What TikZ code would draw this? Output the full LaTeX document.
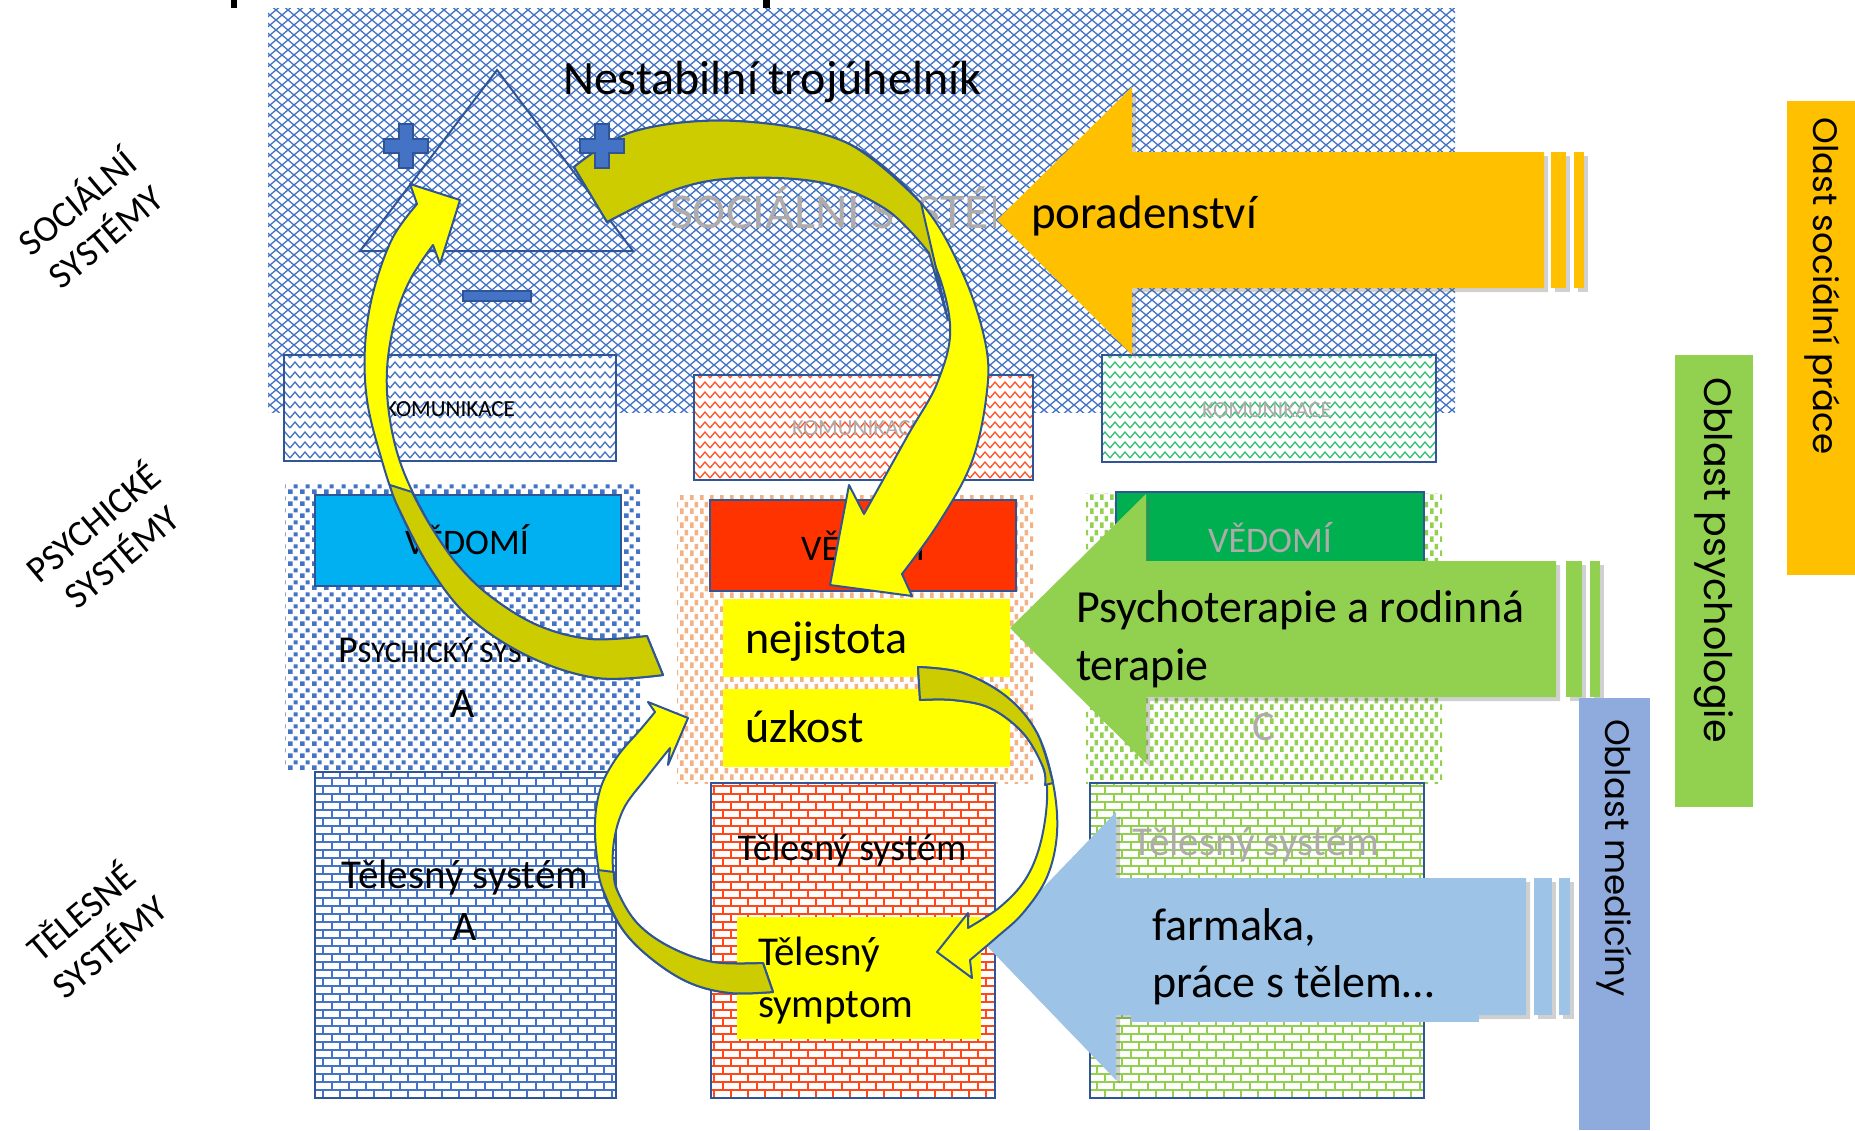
\documentclass[tikz,border=0pt]{standalone}
\usepackage{fontspec}
\setmainfont{Carlito}
\newfontfamily\barfont{Poppins}
\usetikzlibrary{patterns.meta,shadows}
\definecolor{pblue}{HTML}{4472C4}
\definecolor{dblue}{HTML}{2F5597}
\definecolor{cyanv}{HTML}{00B0F0}
\definecolor{redv}{HTML}{FF3300}
\definecolor{greenv}{HTML}{00B050}
\definecolor{yel}{HTML}{FFFF00}
\definecolor{dyel}{HTML}{CCCC00}
\definecolor{orng}{HTML}{FFC000}
\definecolor{lgreen}{HTML}{92D050}
\definecolor{lblue}{HTML}{9DC3E6}
\definecolor{barblue}{HTML}{8FAADC}
\definecolor{peach}{HTML}{F4B183}
\definecolor{gtext}{HTML}{AFABAB}
\pgfdeclarepattern{name=lattice,type=uncolored,
  bottom left={\pgfpoint{-1pt}{-1pt}},top right={\pgfpoint{13pt}{11pt}},
  tile size={\pgfpoint{12pt}{10pt}},
  code={\pgfsetlinewidth{1.3pt}
    \pgfpathmoveto{\pgfpointorigin}\pgfpathlineto{\pgfpoint{12pt}{10pt}}
    \pgfpathmoveto{\pgfpoint{0pt}{10pt}}\pgfpathlineto{\pgfpoint{12pt}{0pt}}
    \pgfusepath{stroke}}}
\pgfdeclarepattern{name=zigzag,type=uncolored,
  bottom left={\pgfpoint{-1pt}{-1pt}},top right={\pgfpoint{11pt}{11pt}},
  tile size={\pgfpoint{10pt}{10pt}},
  code={\pgfsetlinewidth{1.3pt}
    \pgfpathmoveto{\pgfpoint{0pt}{2pt}}\pgfpathlineto{\pgfpoint{5pt}{8pt}}
    \pgfpathlineto{\pgfpoint{10pt}{2pt}}
    \pgfusepath{stroke}}}
\pgfdeclarepattern{name=squares,type=uncolored,
  bottom left={\pgfpoint{0pt}{0pt}},top right={\pgfpoint{12pt}{12pt}},
  tile size={\pgfpoint{12pt}{12pt}},
  code={\pgfpathrectangle{\pgfpoint{0pt}{0pt}}{\pgfpoint{5pt}{5pt}}
    \pgfpathrectangle{\pgfpoint{6pt}{6pt}}{\pgfpoint{4.5pt}{4.5pt}}
    \pgfusepath{fill}}}
\pgfdeclarepattern{name=dashes,type=uncolored,
  bottom left={\pgfpoint{0pt}{0pt}},top right={\pgfpoint{10pt}{14pt}},
  tile size={\pgfpoint{10pt}{14pt}},
  code={\pgfpathrectangle{\pgfpoint{0pt}{0pt}}{\pgfpoint{4pt}{6pt}}
    \pgfpathrectangle{\pgfpoint{5pt}{7pt}}{\pgfpoint{4pt}{6pt}}
    \pgfusepath{fill}}}
\pgfdeclarepattern{name=brick,type=uncolored,
  bottom left={\pgfpoint{-1.2pt}{-1.2pt}},top right={\pgfpoint{18.2pt}{17.2pt}},
  tile size={\pgfpoint{17pt}{16pt}},
  code={\pgfsetlinewidth{2pt}
    \pgfpathmoveto{\pgfpoint{0pt}{0pt}}\pgfpathlineto{\pgfpoint{17pt}{0pt}}
    \pgfpathmoveto{\pgfpoint{0pt}{8pt}}\pgfpathlineto{\pgfpoint{17pt}{8pt}}
    \pgfpathmoveto{\pgfpoint{0pt}{0pt}}\pgfpathlineto{\pgfpoint{0pt}{8pt}}
    \pgfpathmoveto{\pgfpoint{8.5pt}{8pt}}\pgfpathlineto{\pgfpoint{8.5pt}{16pt}}
    \pgfusepath{stroke}}}
\tikzset{
  plusshape/.pic={\filldraw[fill=pblue,draw=dblue,line width=1.2pt]
    (-7,-22) -- (7,-22) -- (7,-7) -- (22,-7) -- (22,7) -- (7,7) -- (7,22)
    -- (-7,22) -- (-7,7) -- (-22,7) -- (-22,-7) -- (-7,-7) -- cycle;},
  outl/.style={draw=dblue,line width=2pt},
  band/.style={draw=dblue,line width=2pt,line join=round},
  bigshadow/.style={drop shadow={shadow xshift=4pt,shadow yshift=-4pt,opacity=.3,fill=black!60}},
  every node/.style={inner sep=0pt,outer sep=0pt},
  t46/.style={font=\fontsize{46}{55}\selectfont},
}
\begin{document}
\begin{tikzpicture}[x=1pt,y=-1pt]
\useasboundingbox (0,0) rectangle (1855,1130);
\fill[white] (0,0) rectangle (1855,1130);
% cut-off title marks
\fill[black] (231,0) rectangle (237,8);
\fill[black] (763,0) rectangle (770,8);
% social system
\path[pattern=lattice,pattern color=pblue] (268,8) rectangle (1455,412);
\draw[dblue,line width=2pt,line join=miter] (497,70) -- (633,251) -- (360,251) -- cycle;
\filldraw[fill=pblue,draw=dblue,line width=1.2pt] (463,291) rectangle (531,301);
\node[anchor=base west,font=\fontsize{48}{58}\selectfont] (title) at (563,94) {Nestabilní trojúhelník};
\begin{scope}
\clip (660,150) rectangle (995,260);
\node[anchor=base west,text=gtext,font=\fontsize{50}{60}\selectfont] (soc) at (670,228) {SOCIÁLNÍ SYSTÉM};
\end{scope}
% komunikace
\fill[white] (284,355) rectangle (616,461);
\path[pattern=zigzag,pattern color=pblue] (284,355) rectangle (616,461);
\draw[outl] (284,355) rectangle (616,461);
\fill[white] (694,375) rectangle (1033,480);
\path[pattern=zigzag,pattern color=redv!85] (694,375) rectangle (1033,480);
\draw[outl] (694,375) rectangle (1033,480);
\fill[white] (1102,355) rectangle (1436,462);
\path[pattern=zigzag,pattern color=greenv!80] (1102,355) rectangle (1436,462);
\draw[outl] (1102,355) rectangle (1436,462);
\node[font=\fontsize{23}{28}\selectfont] (kA) at (450,409) {KOMUNIKACE};
\node[text=gtext,font=\fontsize{23}{28}\selectfont] (kB) at (857,428) {KOMUNIKACE};
\node[text=gtext,font=\fontsize{23}{28}\selectfont] (kC) at (1267,410) {KOMUNIKACE};
% psychic regions
\path[pattern=squares,pattern color=pblue] (285,482) rectangle (640,770);
\path[pattern=dashes,pattern color=peach] (677,495) rectangle (1033,783);
\path[pattern=dashes,pattern color=lgreen] (1086,493) rectangle (1442,783);
\filldraw[fill=cyanv,outl] (315,495) rectangle (621,586);
\filldraw[fill=redv,outl] (710,500) rectangle (1016,591);
\filldraw[fill=greenv,outl] (1116,492) rectangle (1424,582);
\node[font=\fontsize{36}{43}\selectfont] (vA) at (467,540) {VĚDOMÍ};
\node[font=\fontsize{36}{43}\selectfont] (vB) at (863,546) {VĚDOMÍ};
\node[text=gtext,font=\fontsize{36}{43}\selectfont] (vC) at (1270,538) {VĚDOMÍ};
\node[anchor=base west] (psA) at (338,662) {{\fontsize{38}{46}\selectfont P}{\fontsize{30}{36}\selectfont SYCHICKÝ SYSTÉM}};
\node[anchor=base,font=\fontsize{42}{50}\selectfont] (psAl) at (463,717) {A};
\node[anchor=base,text=gtext,font=\fontsize{42}{50}\selectfont] (psC) at (1264,740) {C};
% bodies
\fill[white] (315,772) rectangle (616,1098);
\path[pattern=brick,pattern color=pblue] (315,772) rectangle (616,1098);
\draw[outl] (315,772) rectangle (616,1098);
\fill[white] (711,783) rectangle (995,1098);
\path[pattern=brick,pattern color=redv!90] (711,783) rectangle (995,1098);
\draw[outl] (711,783) rectangle (995,1098);
\fill[white] (1090,783) rectangle (1424,1098);
\path[pattern=brick,pattern color=lgreen] (1090,783) rectangle (1424,1098);
\draw[outl] (1090,783) rectangle (1424,1098);
\node[anchor=base,font=\fontsize{41}{49}\selectfont] (tA) at (465,888) {Tělesný systém};
\node[anchor=base,font=\fontsize{42}{50}\selectfont] (tAl) at (465,940) {A};
\node[anchor=base,font=\fontsize{38}{46}\selectfont] (tB) at (852,860) {Tělesný systém};
\node[anchor=base,text=gtext,font=\fontsize{41}{49}\selectfont] (tC) at (1256,855) {Tělesný systém};
% yellow boxes
\fill[yel] (723,599) rectangle (1010,677);
\fill[yel] (723,689) rectangle (1010,767);
\fill[yel] (737,917) rectangle (981,1039);
\node[anchor=base west,t46] (nej) at (745,653) {nejistota};
\node[anchor=base west,t46] (uzk) at (745,742) {úzkost};
\node[anchor=base west,font=\fontsize{41}{49}\selectfont] (sym1) at (758,965) {Tělesný};
\node[anchor=base west,font=\fontsize{41}{49}\selectfont] (sym2) at (758,1017) {symptom};
% big straight arrows
\fill[orng,bigshadow] (997,220) -- (1132,87) -- (1132,152) -- (1544,152) -- (1544,288) -- (1132,288) -- (1132,355) -- cycle;
\fill[orng,bigshadow] (1551,152) rectangle (1566,288);
\fill[orng,bigshadow] (1574,152) rectangle (1584,288);
\node[anchor=base west,font=\fontsize{47}{56}\selectfont] (por) at (1031,228) {poradenství};
\fill[lgreen,bigshadow] (1010,628) -- (1146,494) -- (1146,561) -- (1556,561) -- (1556,697) -- (1146,697) -- (1146,763) -- cycle;
\fill[lgreen,bigshadow] (1566,561) rectangle (1582,697);
\fill[lgreen,bigshadow] (1590,561) rectangle (1600,697);
\node[anchor=base west,t46] (psy1) at (1076,622) {Psychoterapie a rodinná};
\node[anchor=base west,t46] (psy2) at (1076,680) {terapie};
\fill[lblue,bigshadow] (987,946) -- (1116,812) -- (1116,878) -- (1526,878) -- (1526,1015) -- (1116,1015) -- (1116,1080) -- cycle;
\fill[lblue] (1131,878) rectangle (1479,1022);
\fill[lblue,bigshadow] (1534,878) rectangle (1552,1015);
\fill[lblue,bigshadow] (1559,878) rectangle (1570,1015);
\node[anchor=base west,t46] (far1) at (1152,940) {farmaka,};
\node[anchor=base west,t46] (far2) at (1152,997) {práce s tělem…};
% curved arrow A (triangle -> nejistota)
\filldraw[fill=yel,band] plot[smooth,tension=0.6] coordinates {(574,167) (635,131) (736,121) (845,142) (921,203) (963,274) (986,346) (986,399) (971,464) (938,524) (902,574)} -- (912,596) -- (830,585) -- (849,485) -- plot[smooth,tension=0.6] coordinates {(864,514) (908,435) (938,381) (950,324) (929,253) (887,210) (824,183) (740,178) (677,189) (607,222)} -- cycle;
\filldraw[fill=dyel,band] plot[smooth,tension=0.6] coordinates {(574,167) (635,131) (736,121) (845,142) (921,203)} -- (948,320) -- plot[smooth,tension=0.6] coordinates {(929,253) (887,210) (824,183) (740,178) (677,189) (607,222)} -- cycle;
% curved arrow B (psychic A -> triangle)
\filldraw[fill=yel,band] plot[smooth,tension=0.6] coordinates {(663,675) (597,678) (530,657) (470,618) (430,568) (398,507) (380,454) (367,400) (365,346) (373,293) (392,239) (417,204)} -- (410,184) -- (460,200) -- (440,264) -- plot[smooth,tension=0.6] coordinates {(433,245) (410,280) (395,320) (387,370) (390,420) (403,470) (430,525) (457,564) (490,596) (537,625) (590,639) (647,636)} -- cycle;
\filldraw[fill=dyel,band] plot[smooth,tension=0.6] coordinates {(663,675) (597,678) (530,657) (470,618) (430,568) (398,507) (390,485)} -- plot[smooth,tension=0.6] coordinates {(412,492) (430,525) (457,564) (490,596) (537,625) (590,639) (647,636)} -- cycle;
% curved arrow C (uzkost -> symptom)
\filldraw[fill=yel,band] plot[smooth,tension=0.6] coordinates {(918,667) (963,673) (1007,697) (1037,733) (1053,783) (1057,833) (1047,877) (1023,913) (997,937) (970,960)} -- (972,978) -- (937,952) -- (968,913) -- plot[smooth,tension=0.6] coordinates {(968,928) (1000,907) (1025,880) (1040,845) (1047,800) (1043,767) (1023,733) (990,708) (953,700) (920,700)} -- cycle;
\filldraw[fill=dyel,band] plot[smooth,tension=0.6] coordinates {(918,667) (963,673) (1007,697) (1037,733) (1053,783)} -- plot[smooth,tension=0.6] coordinates {(1045,785) (1043,767) (1023,733) (990,708) (953,700) (920,700)} -- cycle;
% curved arrow D (symptom -> uzkost)
\filldraw[fill=yel,band] plot[smooth,tension=0.6] coordinates {(773,992) (730,993) (690,983) (653,960) (623,930) (603,890) (595,833) (600,790) (617,757) (640,730) (655,712)} -- (648,702) -- (688,718) -- (668,765) -- plot[smooth,tension=0.6] coordinates {(670,748) (647,777) (623,810) (613,850) (617,890) (637,923) (670,947) (713,962) (763,963)} -- cycle;
\filldraw[fill=dyel,band] plot[smooth,tension=0.6] coordinates {(773,992) (730,993) (690,983) (653,960) (623,930) (603,890) (598,870)} -- plot[smooth,tension=0.6] coordinates {(614,872) (617,890) (637,923) (670,947) (713,962) (763,963)} -- cycle;
% plus signs on top
\pic at (406,146) {plusshape};
\pic at (602,146) {plusshape};
% right bars
\fill[orng] (1787,101) rectangle (1855,575);
\fill[lgreen] (1675,355) rectangle (1753,807);
\fill[barblue] (1579,698) rectangle (1650,1130);
\node[rotate=-90,font=\barfont\fontsize{34}{40}\selectfont] (bar1) at (1822,286) {Olast sociální práce};
\node[rotate=-90,font=\barfont\fontsize{38}{44}\selectfont] (bar2) at (1714,560) {Oblast psychologie};
\node[rotate=-90,font=\barfont\fontsize{34}{40}\selectfont] (bar3) at (1614,858) {Oblast medicíny};
% left labels
\node[rotate=40,align=center,font=\fontsize{37}{45}\selectfont] (lab1) at (90,218) {SOCIÁLNÍ\\SYSTÉMY};
\node[rotate=40,align=center,font=\fontsize{37}{45}\selectfont] (lab2) at (106,538) {PSYCHICKÉ\\SYSTÉMY};
\node[rotate=40,align=center,font=\fontsize{37}{45}\selectfont] (lab3) at (94,928) {TĚLESNÉ\\SYSTÉMY};
\end{tikzpicture}
\end{document}
